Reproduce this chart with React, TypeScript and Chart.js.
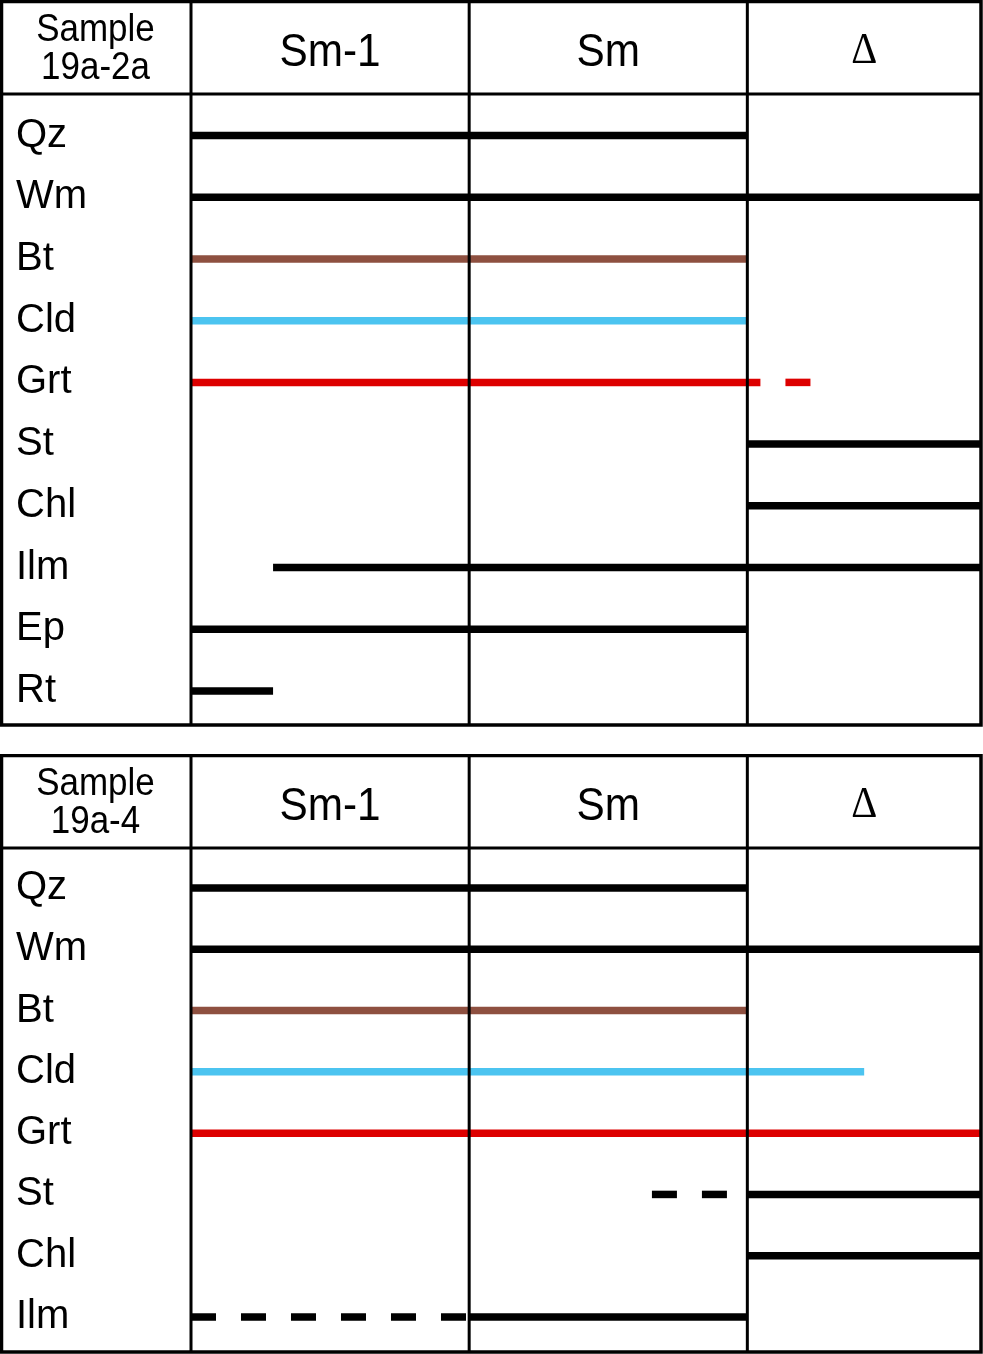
import React, { useEffect, useRef } from 'react';
import { Chart, registerables } from 'chart.js';

Chart.register(...registerables);

// ---- data ----
const STAGES = ['Sm-1', 'Sm', 'Δ'];
const STAGE_EDGES = [0, 1, 2, 2.84];

const SAMPLE_A = ['Sample', '19a-2a'];
const MINERALS_A = ['Qz', 'Wm', 'Bt', 'Cld', 'Grt', 'St', 'Chl', 'Ilm', 'Ep', 'Rt'];
// [mineral, start, end] in stage units
const SOLID_A: [string, number, number][] = [
  ['Qz', 0, 2],
  ['Wm', 0, 2.84],
  ['Bt', 0, 2],
  ['Cld', 0, 2],
  ['Grt', 0, 2.047],
  ['St', 2, 2.84],
  ['Chl', 2, 2.84],
  ['Ilm', 0.295, 2.84],
  ['Ep', 0, 2],
  ['Rt', 0, 0.295],
];
const DASHED_A: [string, number, number][] = [['Grt', 2.137, 2.227]];

const SAMPLE_B = ['Sample', '19a-4'];
const MINERALS_B = ['Qz', 'Wm', 'Bt', 'Cld', 'Grt', 'St', 'Chl', 'Ilm'];
const SOLID_B: [string, number, number][] = [
  ['Qz', 0, 2],
  ['Wm', 0, 2.84],
  ['Bt', 0, 2],
  ['Cld', 0, 2.42],
  ['Grt', 0, 2.84],
  ['St', 2, 2.84],
  ['Chl', 2, 2.84],
  ['Ilm', 1, 2],
];
const DASHED_B: [string, number, number][] = [
  ['St', 1.657, 1.93],
  ['Ilm', 0, 1],
];

// ---- styles ----
const MINERAL_COLORS: Record<string, string> = {
  Bt: '#8E5040',
  Cld: '#4CC4F0',
  Grt: '#DD0000',
};
const SANS = '"Liberation Sans", Arial, sans-serif';
const SERIF = '"Liberation Serif", "Times New Roman", serif';

function drawText(ctx: CanvasRenderingContext2D, text: string, cx: number, baseline: number, font: string, sx: number) {
  ctx.save();
  ctx.translate(cx, baseline);
  ctx.scale(sx, 1);
  ctx.font = font;
  ctx.fillStyle = '#000';
  ctx.textAlign = 'center';
  ctx.textBaseline = 'alphabetic';
  ctx.fillText(text, 0, 0);
  ctx.restore();
}

const tablePlugin = {
  id: 'table',
  afterDraw(chart: any, _args: any, opts: any) {
    const { ctx, chartArea: ca } = chart;
    const x = chart.scales.x;
    ctx.save();
    ctx.strokeStyle = '#000';
    ctx.lineWidth = 3;
    const seg = (x1: number, y1: number, x2: number, y2: number) => {
      ctx.beginPath();
      ctx.moveTo(x1, y1);
      ctx.lineTo(x2, y2);
      ctx.stroke();
    };
    for (let i = 0; i < STAGE_EDGES.length - 1; i++) {
      const px = x.getPixelForValue(STAGE_EDGES[i]);
      seg(px, 0, px, ca.bottom);
    }
    seg(0, ca.top, ca.right, ca.top);
    ctx.lineWidth = 3.5;
    ctx.strokeRect(1.5, 1.5, ca.right - 1.5, ca.bottom - 1.5);

    // header
    const sampleCx = ca.left / 2;
    drawText(ctx, opts.sample[0], sampleCx, 41, `38px ${SANS}`, 0.92);
    drawText(ctx, opts.sample[1], sampleCx, 79, `38px ${SANS}`, 0.92);
    for (let i = 0; i < STAGES.length; i++) {
      const cx = (x.getPixelForValue(STAGE_EDGES[i]) + x.getPixelForValue(STAGE_EDGES[i + 1])) / 2;
      if (STAGES[i] === 'Δ') drawText(ctx, STAGES[i], cx, 63, `44px ${SERIF}`, 0.92);
      else drawText(ctx, STAGES[i], cx, 66, `47px ${SANS}`, 0.9);
    }
    ctx.restore();
  },
};

type Seg = [string, number, number];

function Panel(props: {
  minerals: string[];
  solid: Seg[];
  dashed: Seg[];
  sample: string[];
  height: number;
  yMin: number;
  yMax: number;
}) {
  const ref = useRef<HTMLCanvasElement>(null);
  useEffect(() => {
    const { minerals, solid, dashed, sample, yMin, yMax } = props;
    const mk = (s: Seg, isDashed: boolean) => ({
      label: s[0],
      data: [
        { x: s[1], y: minerals.indexOf(s[0]) },
        { x: s[2], y: minerals.indexOf(s[0]) },
      ],
      borderColor: MINERAL_COLORS[s[0]] || '#000',
      borderWidth: 7.5,
      borderDash: isDashed ? [25, 25] : [],
      borderCapStyle: 'butt',
      pointRadius: 0,
      fill: false,
      tension: 0,
    });
    const datasets = [...solid.map((s) => mk(s, false)), ...dashed.map((s) => mk(s, true))];
    const chart = new Chart(ref.current!, {
      type: 'line',
      data: { datasets: datasets as any },
      plugins: [tablePlugin as any],
      options: {
        animation: false,
        responsive: false,
        devicePixelRatio: 1,
        events: [],
        layout: { padding: { left: 16, right: 2, top: 94, bottom: props.height === 728 ? 3 : 2 } },
        plugins: {
          legend: { display: false },
          tooltip: { enabled: false },
          table: { sample },
        } as any,
        scales: {
          x: {
            type: 'linear',
            min: STAGE_EDGES[0],
            max: STAGE_EDGES[STAGE_EDGES.length - 1],
            display: false,
          },
          y: {
            type: 'linear',
            reverse: true,
            min: yMin,
            max: yMax,
            afterBuildTicks: (s: any) => {
              s.ticks = minerals.map((_, i) => ({ value: i }));
            },
            afterFit: (s: any) => {
              s.width = 175;
              s.paddingTop = 0;
              s.paddingBottom = 0;
            },
            ticks: {
              autoSkip: false,
              padding: 0,
              crossAlign: 'far',
              color: '#000',
              font: { family: SANS, size: 40 },
              callback: (v: any) => minerals[Math.round(Number(v))],
            },
            grid: { display: false },
            border: { display: false },
          },
        },
      } as any,
    });
    return () => chart.destroy();
  }, []);
  return (
    <canvas
      ref={ref}
      width={983}
      height={props.height}
      style={{ display: 'block', width: 983, height: props.height }}
    />
  );
}

export default function App() {
  return (
    <div style={{ position: 'absolute', left: 0, top: 0, width: 983, background: '#fff' }}>
      <Panel
        minerals={MINERALS_A}
        solid={SOLID_A}
        dashed={DASHED_A}
        sample={SAMPLE_A}
        height={728}
        yMin={-0.673}
        yMax={9.551}
      />
      <div style={{ height: 26 }} />
      <Panel
        minerals={MINERALS_B}
        solid={SOLID_B}
        dashed={DASHED_B}
        sample={SAMPLE_B}
        height={600}
        yMin={-0.653}
        yMax={7.571}
      />
    </div>
  );
}
